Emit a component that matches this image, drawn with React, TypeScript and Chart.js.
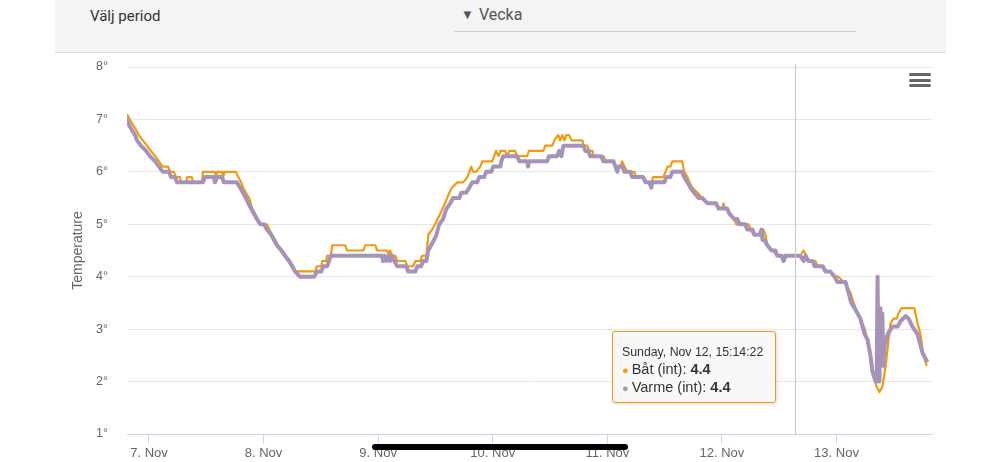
import React, { useEffect, useRef } from "react";
import { Chart, registerables } from "chart.js";

Chart.register(...registerables);

// hours since 7 Nov 00:00
const batHours = [
  -4.6, -4.0, -3.4, -2.7, -2.1, -1.3, -0.4, 0.4, 1.3, 2.1, 2.9, 4.0, 4.4, 5.2, 5.7, 6.5, 6.7, 7.8, 8.0, 9.0,
  9.2, 11.1, 11.3, 13.8, 14.0, 14.3, 15.3, 15.5, 15.9, 18.2, 18.7, 19.3, 19.7, 20.3, 21.0, 21.6, 22.2, 22.8, 23.5, 24.7,
  25.2, 25.8, 26.4, 27.0, 27.9, 28.7, 29.6, 30.2, 30.6, 34.8, 35.2, 36.1, 36.3, 37.1, 37.3, 38.1, 38.4, 41.1, 41.5, 44.9,
  45.3, 47.4, 47.8, 49.9, 50.3, 50.5, 50.9, 51.6, 52.0, 53.7, 54.1, 55.3, 55.8, 56.8, 57.2, 58.1, 58.5, 59.3, 59.9, 61.0,
  62.0, 62.9, 63.5, 64.6, 65.8, 66.7, 67.5, 67.9, 68.5, 69.4, 69.8, 71.9, 72.3, 72.7, 73.2, 73.6, 74.6, 75.0, 75.5, 76.7,
  77.1, 79.2, 79.6, 82.6, 83.0, 84.5, 84.9, 85.7, 86.1, 86.6, 87.0, 87.4, 88.0, 88.5, 90.8, 91.0, 91.8, 92.2, 92.9, 93.1,
  95.2, 95.6, 97.3, 97.7, 98.7, 99.1, 99.6, 100.2, 101.7, 101.9, 103.5, 104.2, 105.2, 105.6, 107.7, 108.2, 108.6, 109.2, 109.6, 111.7,
  112.1, 112.8, 113.2, 113.8, 114.9, 115.9, 117.0, 118.4, 119.3, 120.1, 120.3, 120.7, 121.8, 122.6, 123.0, 125.6, 126.0, 126.6, 128.5, 128.7,
  129.1, 129.5, 130.6, 131.6, 132.7, 133.1, 133.5, 136.4, 137.1, 137.7, 138.1, 139.6, 140.0, 141.3, 141.7, 142.7, 143.4, 144.4, 145.5, 146.3,
  146.9, 147.6, 148.4, 149.0, 149.9, 150.5, 151.1, 151.8, 152.4, 153.0, 153.6, 154.3, 154.9, 155.3, 155.9, 156.6, 157.0, 157.6, 160.3, 161.0,
  161.6, 162.2, 162.9,
];
const batTemps = [
  7.1, 7.0, 6.9, 6.8, 6.7, 6.6, 6.5, 6.4, 6.3, 6.2, 6.1, 6.1, 6.0, 6.0, 5.9, 5.9, 5.8, 5.8, 5.9, 5.9,
  5.8, 5.8, 6.0, 6.0, 5.9, 6.0, 6.0, 5.9, 6.0, 6.0, 5.9, 5.8, 5.7, 5.6, 5.5, 5.3, 5.2, 5.1, 5.0, 5.0,
  4.9, 4.8, 4.7, 4.6, 4.5, 4.4, 4.3, 4.2, 4.1, 4.1, 4.2, 4.2, 4.3, 4.3, 4.4, 4.4, 4.6, 4.6, 4.5, 4.5,
  4.6, 4.6, 4.5, 4.5, 4.4, 4.5, 4.4, 4.4, 4.3, 4.3, 4.2, 4.2, 4.3, 4.3, 4.4, 4.4, 4.8, 4.9, 5.0, 5.2,
  5.4, 5.6, 5.7, 5.8, 5.8, 5.9, 6.1, 6.0, 6.0, 6.1, 6.2, 6.2, 6.3, 6.4, 6.3, 6.4, 6.4, 6.3, 6.4, 6.4,
  6.3, 6.3, 6.4, 6.4, 6.5, 6.5, 6.6, 6.7, 6.6, 6.7, 6.6, 6.7, 6.7, 6.6, 6.6, 6.5, 6.5, 6.4, 6.4, 6.3,
  6.3, 6.2, 6.2, 6.1, 6.1, 6.2, 6.1, 6.0, 6.0, 5.9, 5.9, 5.8, 5.8, 5.9, 5.9, 6.0, 6.1, 6.1, 6.2, 6.2,
  6.0, 5.9, 5.8, 5.7, 5.6, 5.5, 5.4, 5.4, 5.3, 5.3, 5.4, 5.3, 5.2, 5.1, 5.0, 5.0, 4.9, 4.8, 4.8, 4.9,
  4.8, 4.6, 4.5, 4.4, 4.4, 4.3, 4.4, 4.4, 4.5, 4.4, 4.3, 4.3, 4.2, 4.2, 4.1, 4.1, 4.0, 4.0, 3.9, 3.8,
  3.7, 3.5, 3.3, 3.2, 3.0, 2.8, 2.5, 2.1, 1.9, 1.8, 1.9, 2.3, 2.8, 3.1, 3.2, 3.2, 3.3, 3.4, 3.4, 3.1,
  2.9, 2.5, 2.3,
];

const varmeHours = [
  -4.6, -4.2, -3.6, -2.9, -2.5, -1.7, -0.6, 0.2, 1.3, 2.1, 2.9, 4.2, 4.6, 5.4, 5.9, 11.3, 11.7, 13.6, 13.8, 14.3,
  15.3, 15.7, 18.4, 19.1, 19.7, 20.3, 20.8, 21.4, 22.0, 22.6, 23.3, 24.1, 24.7, 25.6, 26.2, 26.8, 27.7, 28.5, 29.3, 30.0,
  30.6, 31.6, 34.6, 35.2, 36.1, 36.5, 37.3, 37.7, 38.1, 48.8, 49.0, 49.3, 49.7, 50.1, 50.5, 50.9, 51.4, 52.0, 53.9, 54.3,
  55.8, 56.2, 57.0, 57.4, 58.1, 58.5, 59.1, 59.7, 60.2, 60.8, 61.6, 62.3, 63.1, 63.7, 65.0, 65.4, 66.4, 67.1, 67.7, 68.7,
  69.2, 70.2, 70.6, 71.7, 72.1, 73.6, 73.8, 74.2, 77.1, 77.6, 79.2, 79.4, 79.6, 83.4, 83.8, 85.5, 85.9, 86.4, 86.8, 91.0,
  91.4, 92.0, 92.4, 94.7, 95.2, 97.3, 97.7, 98.1, 98.3, 99.1, 99.6, 100.8, 101.2, 103.5, 104.0, 104.8, 105.2, 105.4, 107.9, 108.4,
  109.2, 109.6, 111.7, 112.1, 112.8, 113.4, 114.2, 115.1, 115.9, 117.0, 118.8, 119.3, 121.1, 121.6, 122.6, 123.2, 123.7, 124.9, 125.3, 126.4,
  126.8, 127.9, 128.3, 128.5, 128.9, 129.5, 130.4, 131.2, 131.6, 132.5, 132.9, 133.3, 136.4, 137.1, 137.5, 138.1, 139.0, 139.4, 141.1, 141.7,
  142.7, 143.6, 144.2, 145.9, 146.5, 147.1, 147.8, 148.4, 149.0, 149.9, 150.5, 151.1, 151.5, 152.2, 152.4, 152.6, 152.8, 153.0, 153.2, 153.4,
  153.6, 153.8, 154.1, 154.7, 155.7, 156.8, 157.4, 158.5, 159.1, 159.9, 161.0, 162.0, 162.9,
];
const varmeTemps = [
  7.0, 6.9, 6.8, 6.7, 6.6, 6.5, 6.4, 6.3, 6.2, 6.1, 6.0, 6.0, 5.9, 5.9, 5.8, 5.8, 5.9, 5.9, 5.8, 5.9,
  5.9, 5.8, 5.8, 5.7, 5.6, 5.5, 5.4, 5.3, 5.2, 5.1, 5.0, 5.0, 4.9, 4.8, 4.7, 4.6, 4.5, 4.4, 4.3, 4.2,
  4.1, 4.0, 4.0, 4.1, 4.1, 4.2, 4.2, 4.3, 4.4, 4.4, 4.3, 4.4, 4.3, 4.4, 4.3, 4.4, 4.3, 4.2, 4.2, 4.1,
  4.1, 4.2, 4.2, 4.3, 4.3, 4.5, 4.6, 4.7, 4.8, 5.0, 5.1, 5.3, 5.4, 5.5, 5.5, 5.6, 5.6, 5.7, 5.8, 5.8,
  5.9, 5.9, 6.0, 6.0, 6.1, 6.1, 6.2, 6.3, 6.3, 6.2, 6.2, 6.1, 6.2, 6.2, 6.3, 6.3, 6.4, 6.3, 6.5, 6.5,
  6.4, 6.4, 6.3, 6.3, 6.2, 6.2, 6.1, 6.0, 6.1, 6.1, 6.0, 6.0, 5.9, 5.9, 5.8, 5.8, 5.7, 5.8, 5.8, 5.9,
  5.9, 6.0, 6.0, 5.9, 5.8, 5.7, 5.6, 5.5, 5.5, 5.4, 5.4, 5.3, 5.3, 5.2, 5.1, 5.1, 5.0, 5.0, 4.9, 4.9,
  4.8, 4.8, 4.9, 4.7, 4.7, 4.6, 4.5, 4.5, 4.4, 4.4, 4.3, 4.4, 4.4, 4.3, 4.4, 4.3, 4.3, 4.2, 4.2, 4.1,
  4.1, 4.0, 3.9, 3.9, 3.7, 3.5, 3.4, 3.3, 3.2, 2.9, 2.8, 2.5, 2.2, 2.0, 2.0, 4.0, 2.1, 2.0, 3.4, 2.4,
  3.3, 2.3, 2.7, 2.9, 3.05, 3.05, 3.15, 3.25, 3.2, 3.05, 2.9, 2.55, 2.4,
];

const dayTicks = [0, 24, 48, 72, 96, 120, 144];
const dayLabels = ["7. Nov", "8. Nov", "9. Nov", "10. Nov", "11. Nov", "12. Nov", "13. Nov"];
const tempTicks = [1, 2, 3, 4, 5, 6, 7, 8];

const hoverHour = 135.24;
const tooltipTitle = "Sunday, Nov 12, 15:14:22";
const seriesNames = ["Båt (int)", "Varme (int)"];
const hoverValues = [4.4, 4.4];

const BAT_COLOR = "#f39a0c";
const VARME_COLOR = "#a593ba";
const FONT = "'Liberation Sans', Arial, Helvetica, sans-serif";

const crosshairPlugin = {
  id: "crosshair",
  afterDatasetsDraw(chart: any) {
    const { ctx, chartArea, scales } = chart;
    const x = Math.round(scales.x.getPixelForValue(hoverHour)) + 0.5;
    ctx.save();
    ctx.strokeStyle = "#c8c8c8";
    ctx.lineWidth = 1;
    ctx.beginPath();
    ctx.moveTo(x, chartArea.top - 3);
    ctx.lineTo(x, chartArea.bottom);
    ctx.stroke();
    ctx.restore();
  },
};

function TempChart() {
  const ref = useRef<HTMLCanvasElement | null>(null);
  useEffect(() => {
    if (!ref.current) return;
    const chart = new Chart(ref.current, {
      type: "line",
      data: {
        datasets: [
          {
            label: seriesNames[1],
            data: varmeHours.map((h, i) => ({ x: h, y: varmeTemps[i] })),
            borderColor: VARME_COLOR,
            borderWidth: 4,
            pointRadius: 0,
            tension: 0,
            borderJoinStyle: "round",
            borderCapStyle: "round",
            order: 0,
          },
          {
            label: seriesNames[0],
            data: batHours.map((h, i) => ({ x: h, y: batTemps[i] })),
            borderColor: BAT_COLOR,
            borderWidth: 2.2,
            pointRadius: 0,
            tension: 0,
            borderJoinStyle: "round",
            order: 1,
          },
        ],
      },
      options: {
        animation: false,
        responsive: false,
        devicePixelRatio: 1,
        layout: { padding: { top: 14, right: 14, left: 0, bottom: 0 } },
        plugins: {
          legend: { display: false },
          tooltip: { enabled: false },
        },
        events: [],
        scales: {
          x: {
            type: "linear",
            min: -4.6,
            max: 164,
            afterBuildTicks: (s: any) => {
              s.ticks = dayTicks.map((v) => ({ value: v }));
            },
            afterFit: (s: any) => {
              s.height = 28;
            },
            ticks: {
              autoSkip: false,
              maxRotation: 0,
              color: "#666666",
              font: { family: FONT, size: 13 },
              padding: 2,
              callback: (v: any) => dayLabels[dayTicks.indexOf(Number(v))] ?? "",
            },
            grid: {
              drawOnChartArea: false,
              drawTicks: true,
              tickLength: 10,
              color: "#ccd6eb",
            },
            border: { display: true, color: "#ccd6eb", width: 1 },
          },
          y: {
            min: 1,
            max: 8,
            afterBuildTicks: (s: any) => {
              s.ticks = tempTicks.map((v) => ({ value: v }));
            },
            afterFit: (s: any) => {
              s.width = 72;
            },
            ticks: {
              color: "#666666",
              font: { family: FONT, size: 12.5 },
              padding: 3,
              callback: (v: any) => `${v}°`,
            },
            grid: {
              drawTicks: true,
              tickLength: 16,
              tickColor: "rgba(0,0,0,0)",
              color: (c: any) => (c.tick && c.tick.value === 1 ? "rgba(0,0,0,0)" : "#e6e6e6"),
              lineWidth: 1,
            },
            border: { display: false },
            title: {
              display: true,
              text: "Temperature",
              color: "#666666",
              font: { family: FONT, size: 14 },
              padding: { top: 15, bottom: 0 },
            },
          },
        },
      } as any,
      plugins: [crosshairPlugin],
    });
    return () => chart.destroy();
  }, []);
  return <canvas ref={ref} width={891} height={409} style={{ width: 891, height: 409, display: "block" }} />;
}

export default function App() {
  return (
    <div
      style={{
        position: "absolute",
        left: 0,
        top: 0,
        width: 1000,
        height: 462,
        overflow: "hidden",
        background: "#ffffff",
        fontFamily: FONT,
      }}
    >
      <div
        style={{
          position: "absolute",
          left: 55,
          top: 0,
          width: 891,
          height: 52,
          background: "#f4f4f4",
          borderBottom: "1px solid #dcdcdc",
        }}
      />
      <div
        style={{
          position: "absolute",
          left: 90,
          top: 6,
          fontFamily: "Roboto, sans-serif",
          fontSize: 15,
          color: "#333",
          lineHeight: "20px",
        }}
      >
        Välj period
      </div>
      <div
        style={{
          position: "absolute",
          left: 461,
          top: 5,
          fontFamily: "Roboto, sans-serif",
          fontSize: 16,
          color: "#555",
          lineHeight: "20px",
        }}
      >
        <span style={{ fontSize: 13, marginRight: 5, position: "relative", top: -1 }}>▼</span>Vecka
      </div>
      <div style={{ position: "absolute", left: 454, top: 31, width: 402, height: 1, background: "#cfcfcf" }} />
      <div style={{ position: "absolute", left: 55, top: 53 }}>
        <TempChart />
      </div>
      {[73, 78.5, 84].map((t) => (
        <div
          key={t}
          style={{ position: "absolute", left: 909, top: t, width: 22, height: 3, borderRadius: 1.5, background: "#666" }}
        />
      ))}
      <div
        style={{
          position: "absolute",
          left: 612,
          top: 331,
          width: 162,
          height: 70,
          border: `1px solid ${BAT_COLOR}`,
          borderRadius: 3,
          background: "rgba(247,247,247,0.92)",
          boxShadow: "1px 1px 3px rgba(0,0,0,0.15)",
          color: "#333",
          fontFamily: FONT,
        }}
      >
        <div style={{ position: "absolute", left: 9, top: 13, fontSize: 12.3, lineHeight: "14px", whiteSpace: "nowrap" }}>
          {tooltipTitle}
        </div>
        {seriesNames.map((n, i) => (
          <div
            key={n}
            style={{
              position: "absolute",
              left: 9,
              top: 29 + i * 18,
              fontSize: 14.5,
              lineHeight: "17px",
              whiteSpace: "nowrap",
            }}
          >
            <span style={{ color: i === 0 ? BAT_COLOR : VARME_COLOR, fontSize: 11, marginRight: 3 }}>●</span>
            {n}: <b>{hoverValues[i]}</b>
          </div>
        ))}
      </div>
      <div
        style={{ position: "absolute", left: 372, top: 444, width: 256, height: 6, borderRadius: 3, background: "#000" }}
      />
    </div>
  );
}
